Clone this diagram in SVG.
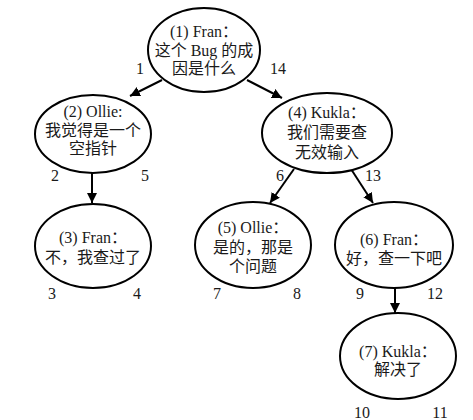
<svg xmlns="http://www.w3.org/2000/svg" width="473" height="420" viewBox="0 0 473 420">
<defs>
<marker id="ah" viewBox="0 0 10 10" refX="10" refY="5" markerWidth="10" markerHeight="10" markerUnits="userSpaceOnUse" orient="auto">
<path d="M0,0 L10,5 L0,10 z" fill="#000"/>
</marker>
<style>
.n{fill:#fff;stroke:#000;stroke-width:2}
.t{font-family:"Liberation Serif","Noto Sans CJK SC",serif;font-size:16px;fill:#1a1a1a;text-anchor:middle}
.c{font-family:"Liberation Serif","Noto Sans CJK SC",serif;font-size:16px;fill:#1a1a1a;text-anchor:middle}
.e{stroke:#000;stroke-width:2;fill:none;marker-end:url(#ah)}
</style>
</defs>
<rect width="473" height="420" fill="#fff"/>
<g id="connectors">
<line class="e" x1="162" y1="80" x2="130" y2="96"/>
<line class="e" x1="247" y1="80" x2="282" y2="98"/>
<line class="e" x1="92" y1="173" x2="92" y2="203"/>
<line class="e" x1="294" y1="169" x2="270" y2="203"/>
<line class="e" x1="351" y1="169" x2="373" y2="203"/>
<line class="e" x1="395" y1="288" x2="395" y2="313"/>
</g>
<g id="node1">
<ellipse class="n" cx="204" cy="50" rx="56" ry="42"/>
<text class="t" x="204" y="37">(1) Fran：</text>
<text class="t" x="204" y="56">这个 Bug 的成</text>
<text class="t" x="204" y="74">因是什么</text>
<text class="c" x="140" y="74">1</text>
<text class="c" x="278" y="74">14</text>
</g>
<g id="node2">
<ellipse class="n" cx="93" cy="134" rx="58" ry="39"/>
<text class="t" x="93" y="117">(2) Ollie:</text>
<text class="t" x="93" y="136">我觉得是一个</text>
<text class="t" x="93" y="154">空指针</text>
<text class="c" x="55" y="181">2</text>
<text class="c" x="145" y="181">5</text>
</g>
<g id="node3">
<ellipse class="n" cx="93" cy="246" rx="58" ry="42"/>
<text class="t" x="93" y="243">(3) Fran：</text>
<text class="t" x="93" y="263">不，我查过了</text>
<text class="c" x="52" y="299">3</text>
<text class="c" x="137" y="299">4</text>
</g>
<g id="node4">
<ellipse class="n" cx="327" cy="133" rx="65" ry="40"/>
<text class="t" x="327" y="118">(4) Kukla：</text>
<text class="t" x="327" y="138">我们需要查</text>
<text class="t" x="327" y="158">无效输入</text>
<text class="c" x="280" y="181">6</text>
<text class="c" x="373" y="181">13</text>
</g>
<g id="node5">
<ellipse class="n" cx="253" cy="245" rx="58" ry="43"/>
<text class="t" x="253" y="233">(5) Ollie：</text>
<text class="t" x="253" y="253">是的，那是</text>
<text class="t" x="253" y="272">个问题</text>
<text class="c" x="217" y="299">7</text>
<text class="c" x="297" y="299">8</text>
</g>
<g id="node6">
<ellipse class="n" cx="394" cy="245" rx="59" ry="43"/>
<text class="t" x="394" y="245">(6) Fran：</text>
<text class="t" x="394" y="264">好，查一下吧</text>
<text class="c" x="360" y="299">9</text>
<text class="c" x="435" y="299">12</text>
</g>
<g id="node7">
<ellipse class="n" cx="398" cy="356" rx="58" ry="43"/>
<text class="t" x="398" y="357">(7) Kukla：</text>
<text class="t" x="398" y="375">解决了</text>
<text class="c" x="362" y="418">10</text>
<text class="c" x="440" y="418">11</text>
</g>
</svg>
